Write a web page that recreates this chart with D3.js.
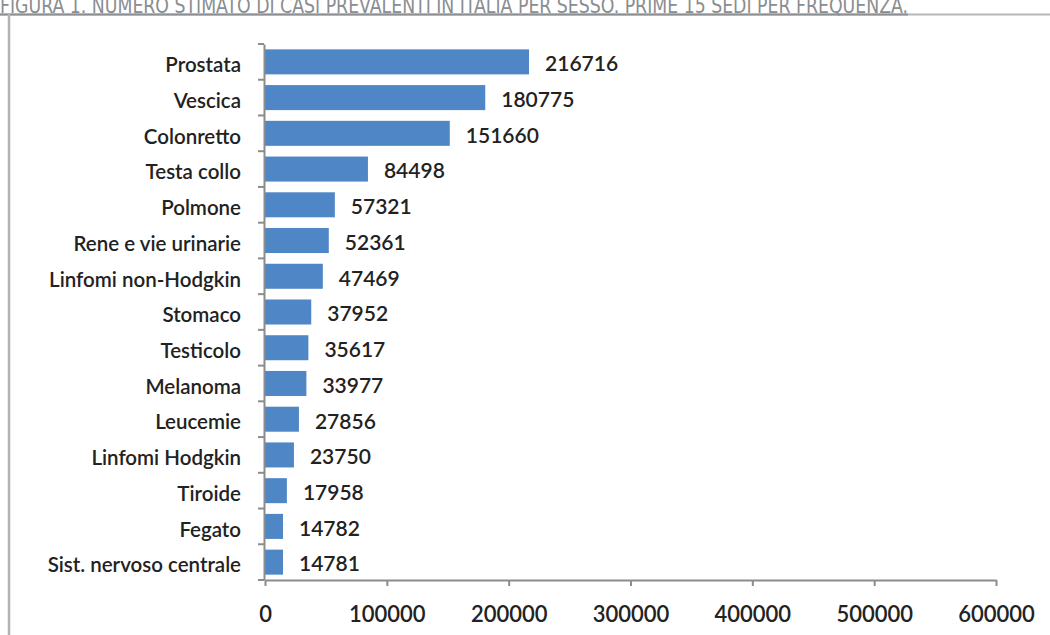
<!DOCTYPE html>
<html><head><meta charset="utf-8">
<script src="https://cdn.jsdelivr.net/npm/d3@7"></script>
<style>body{margin:0;background:#fff;overflow:hidden}</style>
</head><body>
<svg id="c" width="1050" height="635"></svg>
<script>
const categories = ["Prostata","Vescica","Colonretto","Testa collo","Polmone","Rene e vie urinarie","Linfomi non-Hodgkin","Stomaco","Testicolo","Melanoma","Leucemie","Linfomi Hodgkin","Tiroide","Fegato","Sist. nervoso centrale"];
const values = [216716,180775,151660,84498,57321,52361,47469,37952,35617,33977,27856,23750,17958,14782,14781];
const xTicks = [0,100000,200000,300000,400000,500000,600000];
const title = "FIGURA 1. NUMERO STIMATO DI CASI PREVALENTI IN ITALIA PER SESSO. PRIME 15 SEDI PER FREQUENZA.";

const svg = d3.select("#c");
const font = "Lato, 'Open Sans', sans-serif";

// frame
svg.append("line").attr("x1",0).attr("x2",1050).attr("y1",14.5).attr("y2",14.5).attr("stroke","#b4b7ba").attr("stroke-width",2);
svg.append("line").attr("x1",0).attr("x2",908).attr("y1",14.5).attr("y2",14.5).attr("stroke","#8d9093").attr("stroke-width",2);
svg.append("line").attr("x1",9).attr("x2",9).attr("y1",14).attr("y2",635).attr("stroke","#b0b2b4").attr("stroke-width",2.5);
svg.append("text").attr("x",0).attr("y",13).attr("font-family","'Liberation Sans Narrow','DejaVu Sans Condensed',sans-serif")
  .attr("font-size",21).attr("fill","#8a8d90").attr("textLength",908).attr("lengthAdjust","spacingAndGlyphs").text(title);

const x = d3.scaleLinear().domain([0,600000]).range([265,996]);
const y = d3.scaleBand().domain(categories).range([44,580]).paddingInner(0.3).paddingOuter(0.15);

// bars
svg.append("g").selectAll("rect").data(values).join("rect")
  .attr("x",x(0)).attr("y",(d,i)=>y(categories[i]))
  .attr("width",d=>x(d)-x(0)).attr("height",y.bandwidth())
  .attr("fill","#4f86c6");

// value labels
svg.append("g").selectAll("text").data(values).join("text")
  .attr("x",d=>x(d)+16).attr("y",(d,i)=>y(categories[i])+y.bandwidth()/2+2)
  .attr("dy","0.35em").attr("font-family",font).attr("font-weight",600).attr("font-size",21).attr("fill","#222")
  .text(d=>d);

// y axis
const yb = d3.scaleBand().domain(categories).range([44,580]);
const yAxis = svg.append("g").attr("transform","translate(264,0)")
  .call(d3.axisLeft(yb).tickSize(0).tickPadding(23).tickSizeOuter(0));
yAxis.select(".domain").attr("stroke","#8c8c8c").attr("stroke-width",2);
yAxis.selectAll("text").attr("font-family",font).attr("font-weight",600).attr("font-size",20.5).attr("fill","#222").attr("dy","0.5em");
// y ticks at band boundaries
const bounds = categories.map(c=>yb(c)).concat([580]);
svg.append("g").selectAll("line").data(bounds).join("line")
  .attr("x1",258).attr("x2",264).attr("y1",d=>d).attr("y2",d=>d).attr("stroke","#8c8c8c").attr("stroke-width",2);

// x axis
const xAxis = svg.append("g").attr("transform","translate(0,580)")
  .call(d3.axisBottom(x).tickValues(xTicks).tickFormat(d3.format("d")).tickSize(6).tickSizeOuter(0).tickPadding(20));
xAxis.select(".domain").attr("stroke","#8c8c8c").attr("stroke-width",2);
xAxis.selectAll(".tick line").attr("stroke","#8c8c8c").attr("stroke-width",2);
xAxis.selectAll("text").attr("font-family",font).attr("font-weight",600).attr("font-size",22).attr("fill","#222");
</script>
</body></html>
